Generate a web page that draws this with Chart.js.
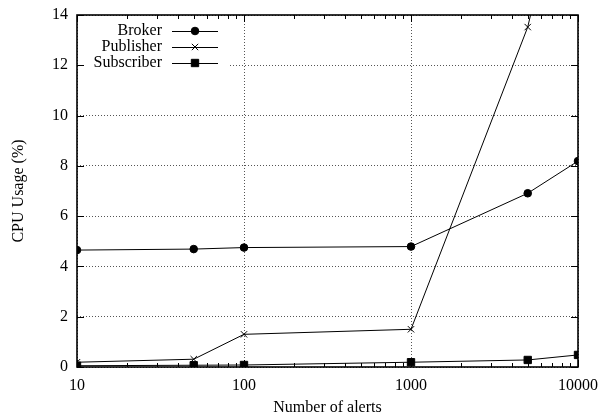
<!DOCTYPE html>
<html>
<head>
<meta charset="utf-8">
<script src="https://cdn.jsdelivr.net/npm/chart.js@4/dist/chart.umd.min.js"></script>
<style>
  html, body { margin: 0; padding: 0; background: #fff; }
  #wrap { width: 602px; height: 417px; }
</style>
</head>
<body>
<div id="wrap"><canvas id="myChart" width="602" height="417"></canvas></div>
<script>
// data
const alerts = [10, 50, 100, 1000, 5000, 10000];
const broker = [4.65, 4.69, 4.75, 4.79, 6.91, 8.19];
const publisher = [0.19, 0.31, 1.30, 1.50, 13.52, 22];
const subscriber = [0.05, 0.07, 0.08, 0.19, 0.28, 0.48];
const xMajor = [10, 100, 1000, 10000];
const yTicks = [0, 2, 4, 6, 8, 10, 12, 14];

const FONT = 'Liberation Serif, "Times New Roman", serif';

function toPoints(ys) {
    return alerts.map((x, i) => ({x: x, y: ys[i]}));
}

// gnuplot-ish frame, inward ticks and key
const framePlugin = {
    id: 'frame',
    beforeDatasetsDraw(chart) {
        // key box hides the grid behind it
        const a = chart.chartArea;
        const ctx = chart.ctx;
        ctx.save();
        ctx.fillStyle = '#fff';
        ctx.fillRect(a.left + 1, a.top + 1, 150, 58);
        ctx.restore();
    },
    afterDatasetsDraw(chart) {
        const ctx = chart.ctx;
        const a = chart.chartArea;
        const xs = chart.scales.x, ys = chart.scales.y;
        ctx.save();
        ctx.strokeStyle = '#000';
        ctx.lineWidth = 1;
        ctx.beginPath();
        // x ticks: majors and minors, bottom and top
        for (let d = 10; d < 10000; d *= 10) {
            for (let m = 1; m <= 10; m++) {
                const v = d * m;
                const px = Math.round(xs.getPixelForValue(v)) + 0.5;
                const len = (m === 1 || m === 10) ? 7 : 4;
                ctx.moveTo(px, a.bottom); ctx.lineTo(px, a.bottom - len);
                ctx.moveTo(px, a.top); ctx.lineTo(px, a.top + len);
            }
        }
        yTicks.forEach(v => {
            const py = Math.round(ys.getPixelForValue(v)) + 0.5;
            ctx.moveTo(a.left, py); ctx.lineTo(a.left + 7, py);
            ctx.moveTo(a.right, py); ctx.lineTo(a.right - 7, py);
        });
        ctx.stroke();
        ctx.lineWidth = 1.6;
        ctx.strokeRect(a.left, a.top, a.right - a.left, a.bottom - a.top);

        // key, top left inside
        ctx.font = '16px ' + FONT;
        ctx.textAlign = 'right';
        ctx.textBaseline = 'middle';
        ctx.fillStyle = '#000';
        chart.data.datasets.forEach((ds, i) => {
            const y = a.top + 16 + i * 16;
            ctx.fillText(ds.label, 162, y);
            ctx.lineWidth = 1;
            ctx.beginPath();
            ctx.moveTo(172, y + 0.5); ctx.lineTo(218, y + 0.5);
            ctx.stroke();
            Chart.helpers.drawPoint(ctx, {
                pointStyle: ds.pointStyle,
                radius: ds.pointRadius,
                borderWidth: 1
            }, 195, y);
        });
        ctx.restore();
    }
};

new Chart(document.getElementById('myChart'), {
    type: 'line',
    data: {
        datasets: [{
            label: 'Broker',
            data: toPoints(broker),
            pointStyle: 'circle',
            pointRadius: 3.8
        }, {
            label: 'Publisher',
            data: toPoints(publisher),
            pointStyle: 'crossRot',
            pointRadius: 4.5
        }, {
            label: 'Subscriber',
            data: toPoints(subscriber),
            pointStyle: 'rect',
            pointRadius: 5.2
        }].map(ds => Object.assign(ds, {
            borderColor: '#000',
            backgroundColor: '#000',
            pointBackgroundColor: '#000',
            pointBorderColor: '#000',
            borderWidth: 1,
            pointBorderWidth: 1,
            tension: 0
        }))
    },
    options: {
        responsive: false,
        animation: false,
        events: [],
        layout: {padding: {left: 0, top: 15, right: 24, bottom: 0}},
        scales: {
            x: {
                type: 'logarithmic',
                min: 10,
                max: 10000,
                border: {display: false, dash: [1, 2]},
                afterFit(scale) {
                    scale.height = 50;
                    scale.paddingLeft = 0;
                    scale.paddingRight = 0;
                },
                afterBuildTicks(scale) {
                    scale.ticks = xMajor.map(v => ({value: v}));
                },
                ticks: {
                    color: '#000',
                    padding: 9,
                    autoSkip: false,
                    maxRotation: 0,
                    font: {family: FONT, size: 16},
                    callback: v => String(v)
                },
                grid: {
                    drawTicks: false,
                    color: '#555',
                    lineWidth: 1
                },
                title: {
                    display: true,
                    text: 'Number of alerts',
                    color: '#000',
                    padding: {top: 0, bottom: 0},
                    font: {family: FONT, size: 16}
                }
            },
            y: {
                min: 0,
                max: 14,
                border: {display: false, dash: [1, 2]},
                afterFit(scale) {
                    scale.width = 77;
                    scale.paddingTop = 0;
                    scale.paddingBottom = 0;
                },
                afterBuildTicks(scale) {
                    scale.ticks = yTicks.map(v => ({value: v}));
                },
                ticks: {
                    color: '#000',
                    padding: 9,
                    font: {family: FONT, size: 16}
                },
                grid: {
                    drawTicks: false,
                    color: '#555',
                    lineWidth: 1
                },
                title: {
                    display: true,
                    text: 'CPU Usage (%)',
                    color: '#000',
                    padding: {top: 9, bottom: 0},
                    font: {family: FONT, size: 16}
                }
            }
        },
        plugins: {
            legend: {display: false},
            tooltip: {enabled: false}
        }
    },
    plugins: [framePlugin]
});
</script>
</body>
</html>
